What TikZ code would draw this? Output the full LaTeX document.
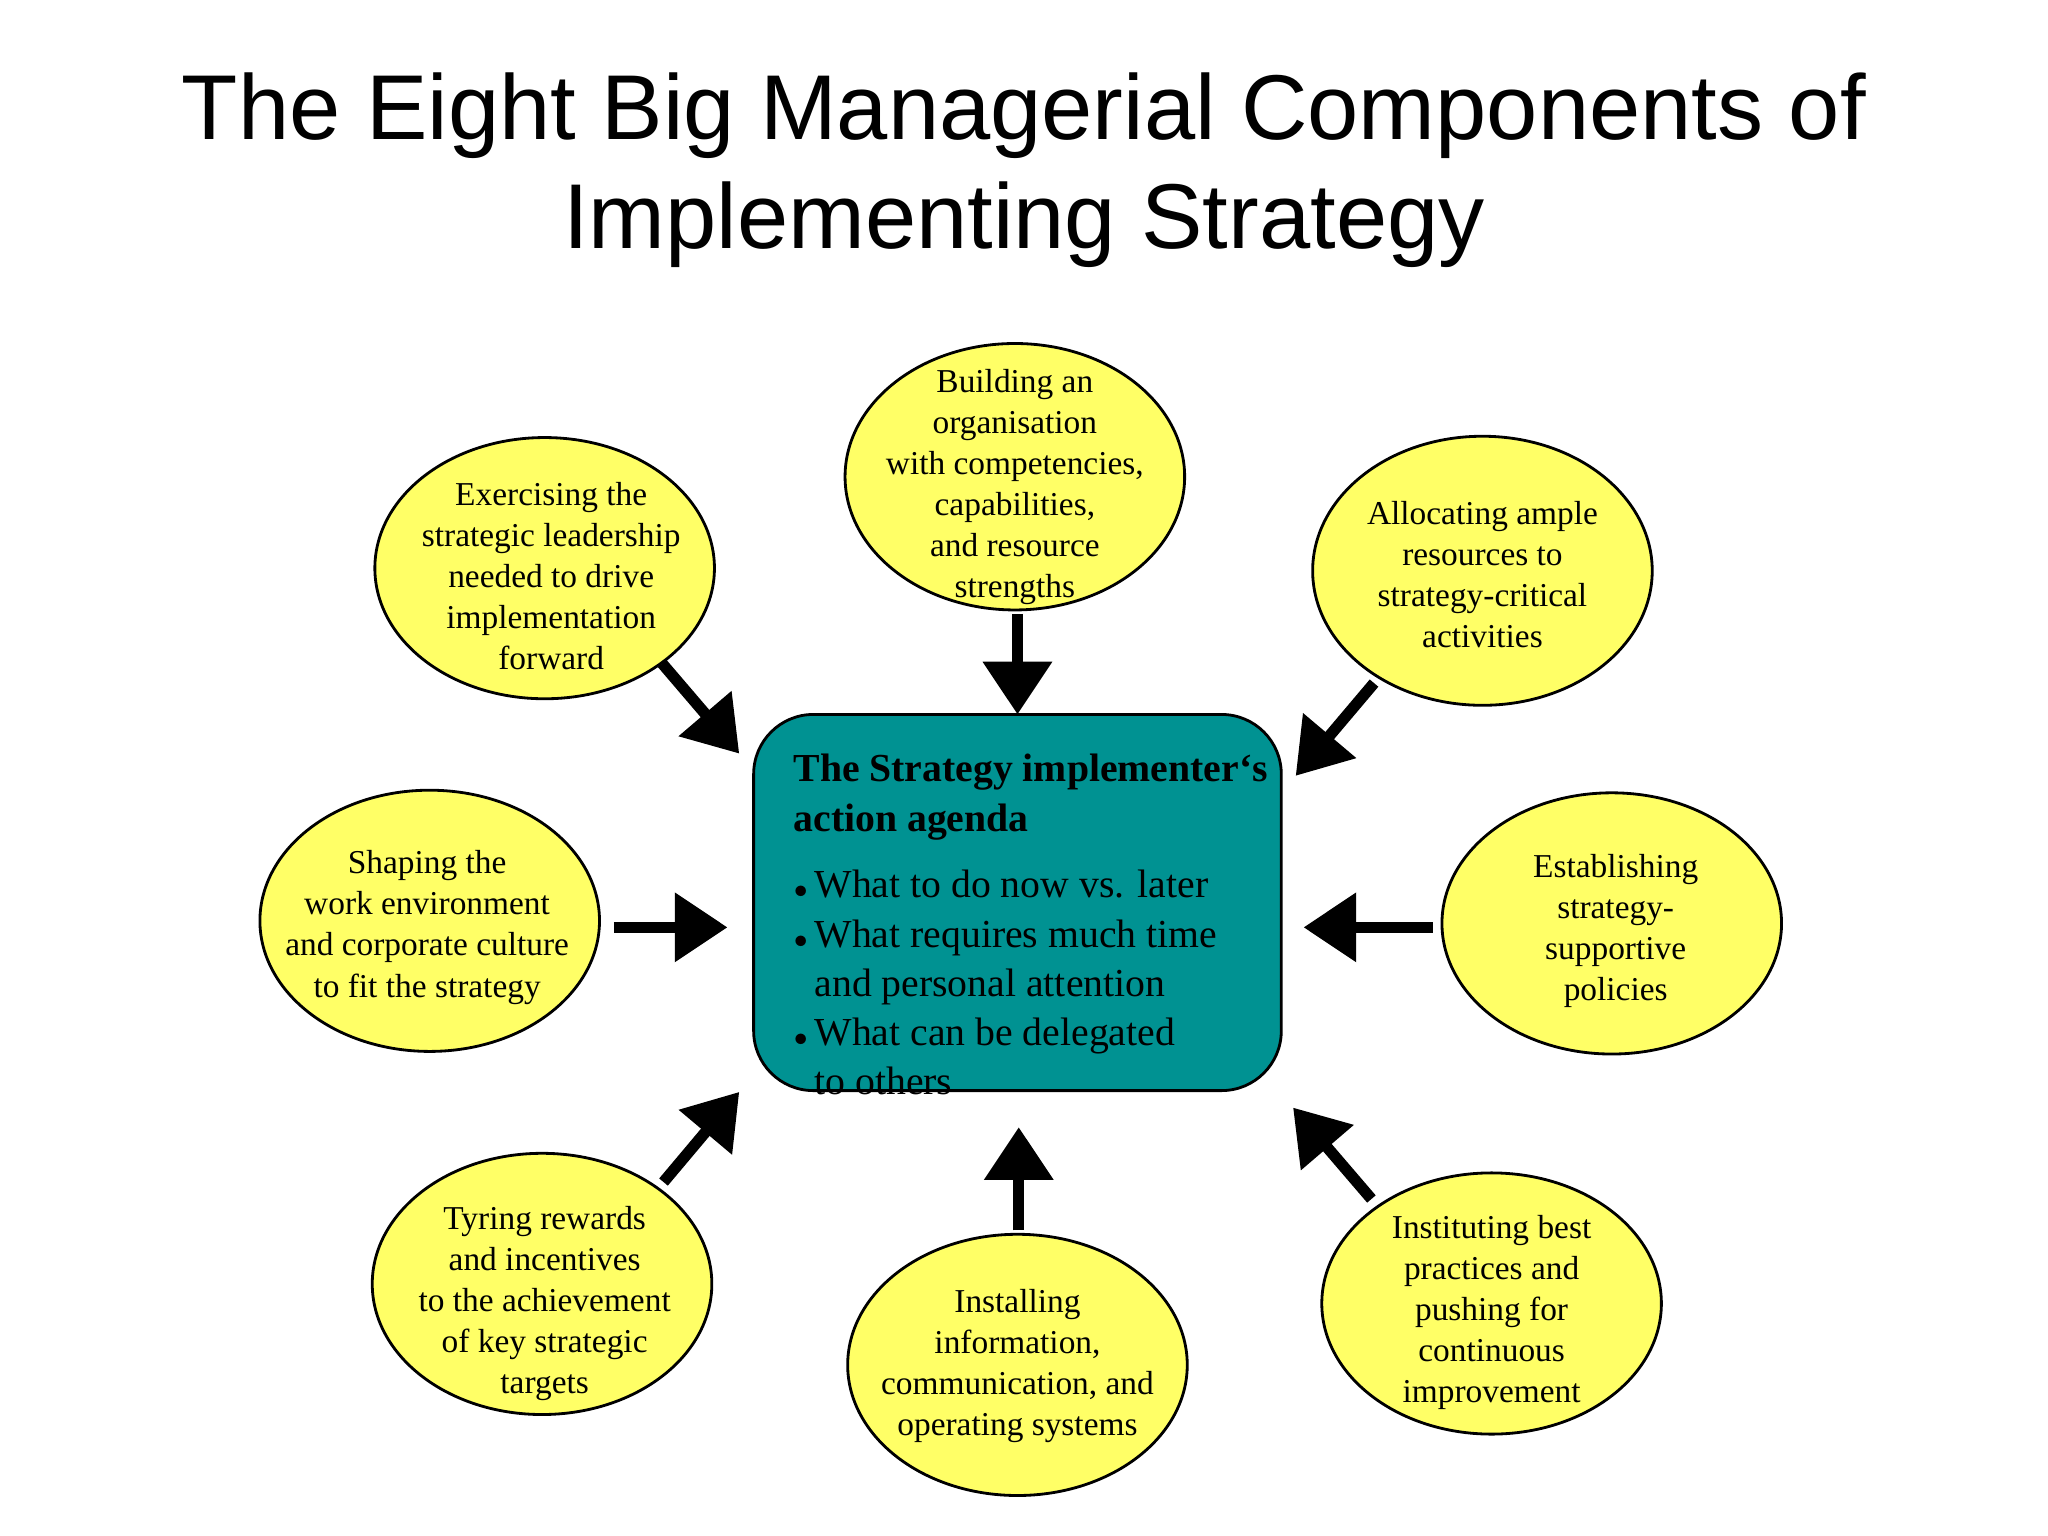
\documentclass[tikz,border=0pt]{standalone}
\usepackage{fontspec}
\setmainfont{Liberation Serif}
\newfontfamily\titlefont{Liberation Sans}
\usetikzlibrary{arrows.meta,shapes.geometric}
\definecolor{boxteal}{RGB}{0,146,146}
\definecolor{ellyel}{RGB}{255,255,102}
\begin{document}
\begin{tikzpicture}[x=0.013061cm,y=-0.013061cm,
  lab/.style={align=center,font=\fontsize{9.5}{11.7}\selectfont},
  el/.style={draw=black,line width=0.8pt,fill=ellyel},
  bigarrow/.style={line width=3.2pt,-{Triangle[length=15pt,width=19pt]}}]
\useasboundingbox (0,0) rectangle (1568,1176);
\fill[white] (0,0) rectangle (1568,1176);
\node[font=\titlefont\fontsize{26.2}{31}\selectfont,align=center] (title) at (784,130) {The Eight Big Managerial Components of\\Implementing Strategy};
\foreach \n/\x/\y/\ry in {top/777/365/102,tl/417/435/100,tr/1135/437/103,l/329/705/100,r/1234/707/100,bl/415/983/100,b/779/1045/100,br/1142/998/100}{
  \fill[el] (\x,\y) ellipse [x radius=130, y radius=\ry];
}
\node[lab] (ntop) at (777,373) {Building an\\organisation\\with competencies,\\capabilities,\\and resource\\strengths};
\node[lab] (ntl) at (422,441) {Exercising the\\strategic leadership\\needed to drive\\implementation\\forward};
\node[lab] (ntr) at (1135,440) {Allocating ample\\resources to\\strategy-critical\\activities};
\node[lab] (nl) at (327,710) {Shaping the\\work environment\\and corporate culture\\to fit the strategy};
\node[lab] (nr) at (1237,713) {Establishing\\strategy-\\supportive\\policies};
\node[lab] (nbl) at (417,998) {Tyring rewards\\and incentives\\to the achievement\\of key strategic\\targets};
\node[lab] (nb) at (779,1046) {Installing\\information,\\communication, and\\operating systems};
\node[lab] (nbr) at (1142,1005) {Instituting best\\practices and\\pushing for\\continuous\\improvement};
\draw[line width=0.8pt,fill=boxteal,rounded corners=17pt] (577,547) rectangle (981,835);
\node[anchor=north west,align=left,inner sep=0pt,font=\fontsize{11.3}{14}\selectfont] (center) at (607,577)
 {\textbf{The Strategy implementer‘s}\\\textbf{action agenda}\\[5pt]
  {\fontsize{7}{9}\selectfont$\bullet$}\,What to do now vs. later\\
  {\fontsize{7}{9}\selectfont$\bullet$}\,What requires much time\\
  \phantom{\fontsize{7}{9}\selectfont$\bullet$}\,and personal attention\\
  {\fontsize{7}{9}\selectfont$\bullet$}\,What can be delegated\\
  \phantom{\fontsize{7}{9}\selectfont$\bullet$}\,to others};
\foreach \a/\ax/\ay/\bx/\by in {t/779/470/779/547,tl/507/508/566/577,tr/1052/523/992/594,l/470/710/557/710,r/1097/710/998/710,bl/508/905/566/836,b/780/942/780/863,br/1050/918/990/848}{
  \coordinate (s\a) at (\ax,\ay);
  \coordinate (e\a) at (\bx,\by);
  \draw[bigarrow] (s\a) -- (e\a);
}
\end{tikzpicture}
\end{document}
